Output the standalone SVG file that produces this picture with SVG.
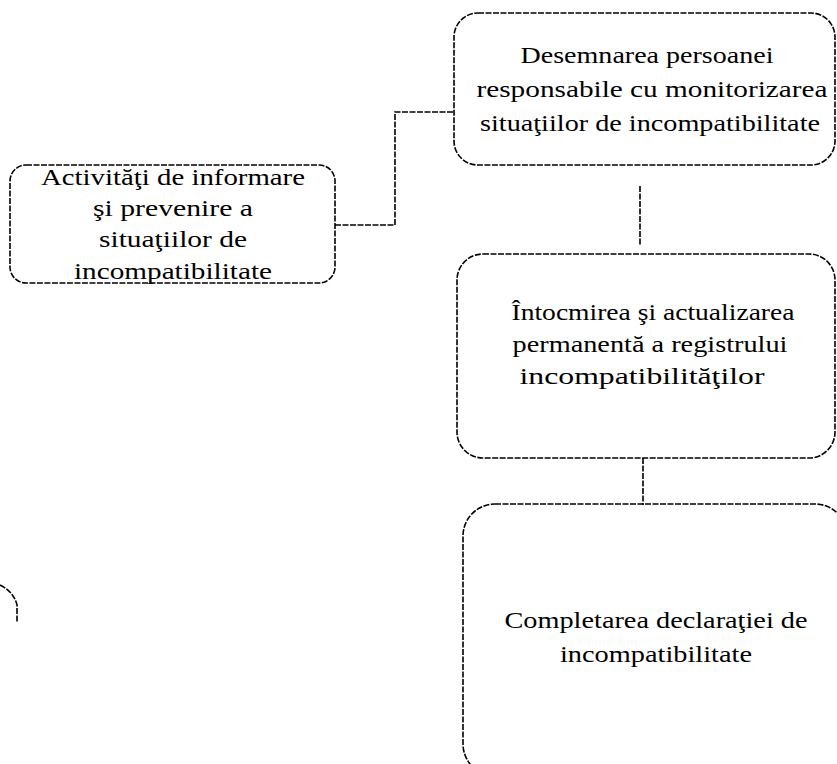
<svg xmlns="http://www.w3.org/2000/svg" width="837" height="764" viewBox="0 0 837 764">
<style>
.box{fill:none;stroke:#000;stroke-width:1.6;stroke-dasharray:6 1.5}
.conn{fill:none;stroke:#000;stroke-width:1.6;stroke-dasharray:6 1.5}
text{font-family:"Liberation Serif","Times New Roman",serif;font-size:23px;fill:#000;text-anchor:middle}
</style>
<rect width="837" height="764" fill="#fff"/>
<g id="connectors">
<path class="conn" d="M335 225 H395 V112 H454"/>
<path class="conn" d="M640 186 V246"/>
<path class="conn" d="M643 458 V505"/>
</g>
<g id="node-informare">
<rect class="box" x="10" y="165" width="325" height="118" rx="16"/>
<text x="173" y="185" textLength="264" lengthAdjust="spacingAndGlyphs">Activităţi de informare</text>
<text x="173" y="216" textLength="160" lengthAdjust="spacingAndGlyphs">şi prevenire a</text>
<text x="173" y="247" textLength="148" lengthAdjust="spacingAndGlyphs">situaţiilor de</text>
<text x="173" y="279" textLength="198" lengthAdjust="spacingAndGlyphs">incompatibilitate</text>
</g>
<g id="node-desemnarea">
<rect class="box" x="454" y="13" width="381" height="152" rx="24"/>
<text x="647" y="63" textLength="253" lengthAdjust="spacingAndGlyphs">Desemnarea persoanei</text>
<text x="652" y="97" textLength="351" lengthAdjust="spacingAndGlyphs">responsabile cu monitorizarea</text>
<text x="650" y="131" textLength="340" lengthAdjust="spacingAndGlyphs">situaţiilor de incompatibilitate</text>
</g>
<g id="node-intocmirea">
<rect class="box" x="457" y="254" width="378" height="204" rx="26"/>
<text x="653" y="320" textLength="283" lengthAdjust="spacingAndGlyphs">Întocmirea şi actualizarea</text>
<text x="650" y="352" textLength="275" lengthAdjust="spacingAndGlyphs">permanentă a registrului</text>
<text x="642" y="384" textLength="245" lengthAdjust="spacingAndGlyphs">incompatibilităţilor</text>
</g>
<g id="node-completarea">
<rect class="box" x="463" y="504" width="384" height="272" rx="32"/>
<text x="656" y="628" textLength="303" lengthAdjust="spacingAndGlyphs">Completarea declaraţiei de</text>
<text x="656" y="662" textLength="192" lengthAdjust="spacingAndGlyphs">incompatibilitate</text>
</g>
<path class="conn" d="M0 585 Q14 592 17 605 V622"/>
</svg>
